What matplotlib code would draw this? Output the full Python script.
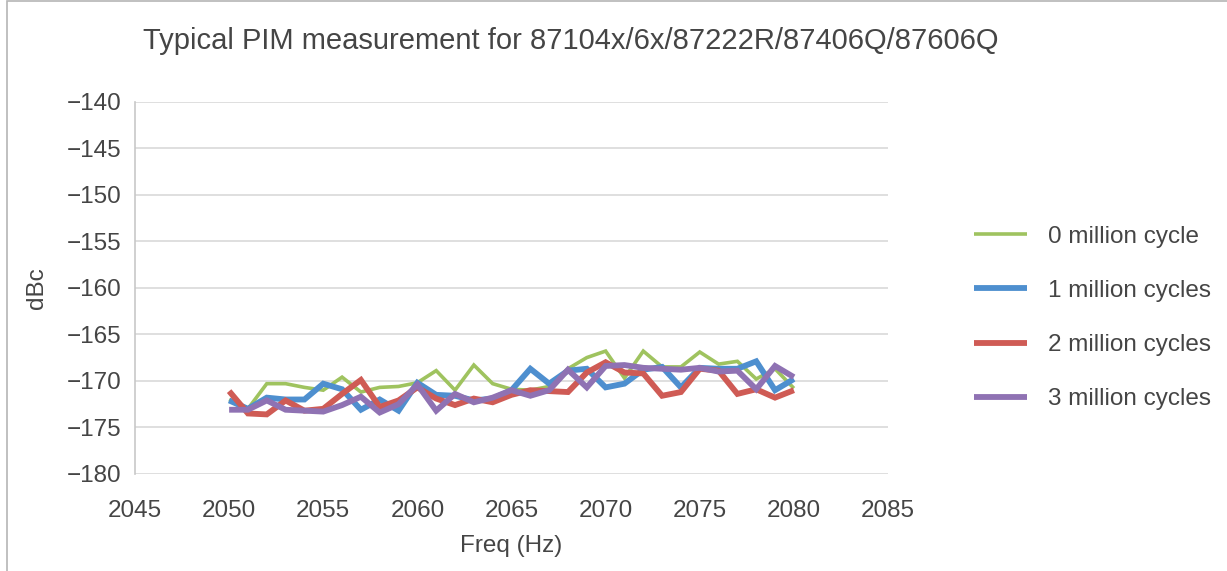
import numpy as np
import matplotlib.pyplot as plt
from matplotlib.patches import Rectangle

plt.rcParams['font.family'] = ['Liberation Sans', 'DejaVu Sans']

freq = np.arange(2050, 2081)

cycles_0 = [-172.0, -173.0, -170.3, -170.3, -170.7, -171.0, -169.6, -171.2, -170.7, -170.6,
            -170.2, -168.9, -171.0, -168.3, -170.3, -170.9, -171.0, -170.6, -168.7, -167.5,
            -166.8, -169.7, -166.8, -168.5, -168.5, -166.9, -168.2, -167.9, -169.8, -168.7,
            -170.8]
cycles_1 = [-172.1, -173.0, -171.8, -172.0, -172.0, -170.3, -170.9, -173.1, -172.0, -173.2,
            -170.2, -171.5, -171.6, -172.1, -171.9, -171.0, -168.7, -170.3, -168.9, -168.7,
            -170.7, -170.3, -168.8, -168.5, -170.7, -168.6, -168.7, -168.7, -167.9, -171.0,
            -169.8]
cycles_2 = [-171.1, -173.5, -173.6, -172.1, -173.2, -173.0, -171.4, -169.9, -172.8, -172.1,
            -170.7, -171.9, -172.6, -171.9, -172.3, -171.5, -171.0, -171.1, -171.2, -169.1,
            -168.0, -169.1, -169.2, -171.6, -171.2, -168.7, -168.9, -171.4, -170.9, -171.8,
            -171.0]
cycles_3 = [-173.1, -173.1, -172.1, -173.1, -173.2, -173.3, -172.6, -171.7, -173.4, -172.5,
            -170.4, -173.2, -171.4, -172.3, -171.8, -171.0, -171.6, -171.0, -168.8, -170.7,
            -168.4, -168.3, -168.6, -168.7, -168.8, -168.6, -169.0, -168.9, -170.9, -168.4,
            -169.6]

labels = ['0 million cycle', '1 million cycles', '2 million cycles', '3 million cycles']
colors = ['#9fc35f', '#4e8fcf', '#cf5b55', '#8f72b3']
widths = [2.6, 4.2, 4.2, 4.2]

text_color = '#454545'

fig = plt.figure(figsize=(12.27, 5.71), dpi=100)
# chart frame (only left and top edges visible in the crop)
fig.patches.append(Rectangle((7 / 1227, -0.05), 1.1, 1.05 - 1.5 / 571, transform=fig.transFigure,
                             fill=False, edgecolor='#b5b5b5', linewidth=1.2))

ax = fig.add_axes([135 / 1227, 1 - 474 / 571, (888 - 135) / 1227, (474 - 101.5) / 571])

for series, lab, col, lw in zip([cycles_0, cycles_1, cycles_2, cycles_3], labels, colors, widths):
    ax.plot(freq, series, color=col, linewidth=lw, label=lab,
            solid_joinstyle='miter', solid_capstyle='butt')

ax.set_xlim(2045, 2085)
ax.set_ylim(-180, -140)
ax.set_xticks(np.arange(2045, 2086, 5))
ax.set_yticks(np.arange(-180, -139, 5))
ax.grid(axis='y', color='#d9d9d9', linewidth=1.2)
ax.set_axisbelow(True)
ax.tick_params(length=0, labelsize=17.5, colors=text_color)
ax.tick_params(axis='x', pad=19)
ax.tick_params(axis='y', pad=10)

for side in ['top', 'right', 'bottom']:
    ax.spines[side].set_visible(False)
ax.spines['left'].set_color('#c8c8c8')
ax.spines['left'].set_linewidth(1.2)

ax.set_xlabel('Freq (Hz)', fontsize=17.5, color=text_color, labelpad=9)
ax.set_ylabel('dBc', fontsize=17.5, color=text_color, labelpad=13)

fig.text(143 / 1227, 1 - 41 / 571, 'Typical PIM measurement for 87104x/6x/87222R/87406Q/87606Q',
         fontsize=21, color=text_color, va='center', ha='left')

fig.legend(loc='center left', bbox_to_anchor=(952 / 1227, 1 - 318 / 571), frameon=False,
           fontsize=17.5, handlelength=2.2, handletextpad=0.85, labelspacing=1.32,
           labelcolor=text_color)

fig.savefig('out.png', dpi=100)
